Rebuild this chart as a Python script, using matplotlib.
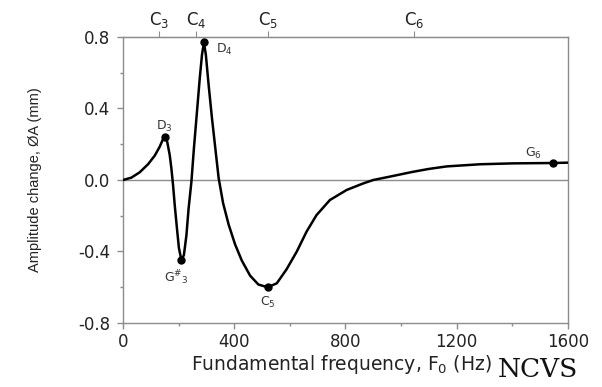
import numpy as np
import matplotlib
matplotlib.use("Agg")
import matplotlib.pyplot as plt

plt.rcParams['font.family'] = ['DejaVu Sans']
plt.rcParams['mathtext.fontset'] = 'custom'
plt.rcParams['mathtext.rm'] = 'DejaVu Sans'
plt.rcParams['mathtext.it'] = 'DejaVu Sans'
plt.rcParams['mathtext.default'] = 'regular'

# curve
freq = [0, 30, 60, 90, 114, 132, 144, 150, 159, 168, 174, 180, 186, 194, 201,
        210, 219, 228, 236, 246, 255, 266, 276, 284, 291, 298, 308, 320, 332,
        344, 360, 380, 403, 427, 457, 487, 520, 553, 588, 625, 660, 696, 744,
        804, 864, 900, 960, 1040, 1100, 1164, 1284, 1402, 1545, 1600]
amp = [0.0, 0.013, 0.043, 0.088, 0.136, 0.186, 0.229, 0.239, 0.214, 0.14,
       0.065, -0.028, -0.14, -0.27, -0.38, -0.448, -0.42, -0.31, -0.158, -0.01,
       0.177, 0.382, 0.569, 0.70, 0.770, 0.70, 0.53, 0.345, 0.177, 0.01, -0.13,
       -0.25, -0.36, -0.45, -0.535, -0.585, -0.60, -0.578, -0.50, -0.40,
       -0.289, -0.196, -0.112, -0.056, -0.019, 0.0, 0.019, 0.045, 0.062, 0.076,
       0.088, 0.093, 0.095, 0.097]

# marked notes
pt_f = [150, 210, 291, 520, 1545]
pt_a = [0.239, -0.448, 0.770, -0.60, 0.095]
pt_lab = ['D$_3$', 'G$^{\\#}$$_3$', 'D$_4$', 'C$_5$', 'G$_6$']

# top axis note positions
note_f = [131, 262, 523, 1047]
note_lab = ['C$_3$', 'C$_4$', 'C$_5$', 'C$_6$']

grey = '#8c8c8c'

fig = plt.figure(figsize=(6.02, 3.87), dpi=100)
ax = fig.add_axes([0.2043, 0.1654, 0.7392, 0.739])

ax.axhline(0, color=grey, lw=1.0, zorder=1)
ax.plot(freq, amp, color='black', lw=1.8, zorder=3, solid_joinstyle='round')
ax.plot(pt_f, pt_a, 'o', color='black', ms=5, zorder=4)

offs = [(0, 8, 'center'), (-4, -13, 'center'), (9, -5, 'left'), (0, -11, 'center'), (-14, 7, 'center')]
for f, a, lab, (dx, dy, ha) in zip(pt_f, pt_a, pt_lab, offs):
    ax.annotate(lab, (f, a), xytext=(dx, dy), textcoords='offset points',
                ha=ha, va='center', fontsize=9, color='#333333')

ax.set_xlim(0, 1600)
ax.set_ylim(-0.8, 0.8)
ax.set_xticks([0, 400, 800, 1200, 1600])
ax.set_xticks([200, 600, 1000, 1400], minor=True)
ax.set_yticks([-0.8, -0.4, 0.0, 0.4, 0.8])
ax.set_yticklabels(['-0.8', '-0.4', '0.0', '0.4', '0.8'])
ax.set_yticks([-0.6, -0.2, 0.2, 0.6], minor=True)
ax.tick_params(which='both', direction='out', color=grey, labelsize=12,
               top=False, right=False, labelcolor='#222222')
ax.tick_params(which='major', length=4, width=1)
ax.tick_params(which='minor', length=2.5, width=1)
ax.tick_params(axis='y', pad=5)
for s in ax.spines.values():
    s.set_color(grey)
    s.set_linewidth(1.0)

top = ax.secondary_xaxis('top')
top.set_xticks(note_f)
top.set_xticklabels(note_lab)
top.tick_params(direction='out', length=4, color=grey, labelsize=12, pad=1,
                labelcolor='#222222')
top.spines['top'].set_color(grey)

ax.set_xlabel('Fundamental frequency, F$_0$ (Hz)', fontsize=13.5,
              color='#222222')
ax.xaxis.set_label_coords(0.49, -0.105)
ax.set_ylabel('Amplitude change, ØA (mm)', fontsize=10.5,
              family='Liberation Sans', labelpad=26, color='#222222')

fig.text(0.826, 0.045, 'NCVS', fontsize=19, family='DejaVu Serif',
         ha='left', va='center', color='#111111',
         bbox=dict(facecolor='white', edgecolor='none', pad=2))

fig.savefig('out.png', dpi=100)
